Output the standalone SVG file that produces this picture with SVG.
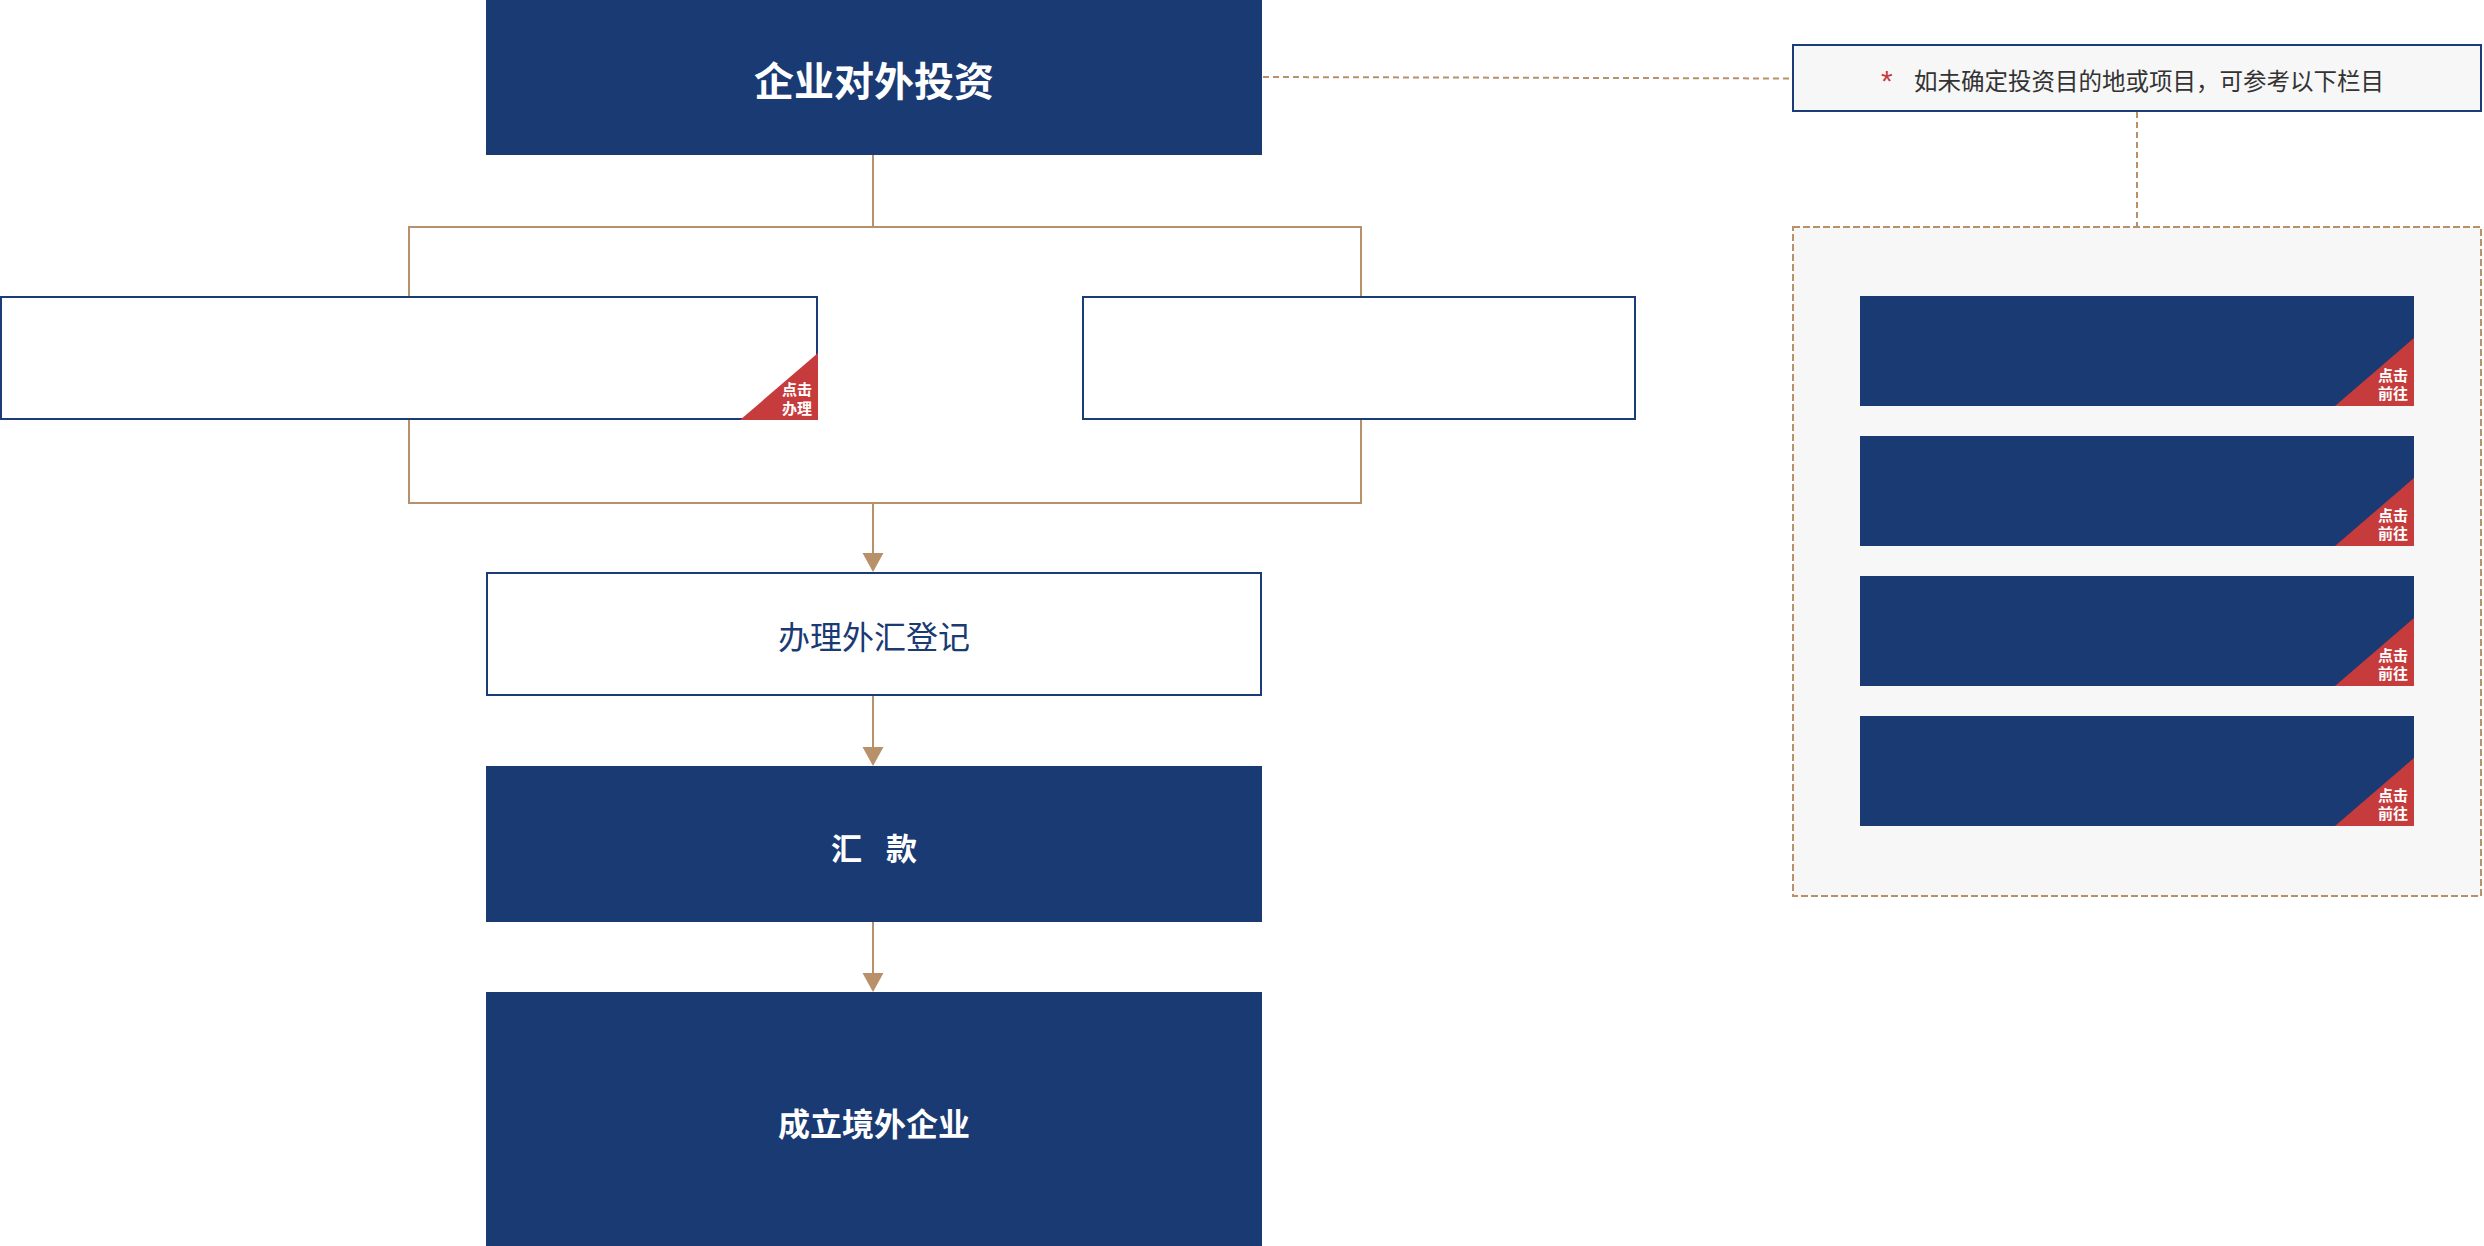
<svg xmlns="http://www.w3.org/2000/svg" width="2484" height="1246" viewBox="0 0 2484 1246">
  <style>
    .solid { fill: #1a3a73; }
    .outline { fill: #ffffff; stroke: #1c3c79; stroke-width: 2; }
    .tag { fill: #c63c3c; }
    .tagtxt { font-family: "Noto Sans CJK SC", "Noto Sans", sans-serif; font-size: 15px; font-weight: 700; fill: #ffffff; text-anchor: end; dominant-baseline: central; }
    .title { font-family: "Noto Sans CJK SC", "Noto Sans", sans-serif; font-weight: 700; fill: #ffffff; text-anchor: middle; dominant-baseline: central; }
    .label { font-family: "Noto Sans CJK SC", "Noto Sans", sans-serif; font-weight: 400; fill: #1a3a73; text-anchor: middle; dominant-baseline: central; }
    .note { font-family: "Noto Sans CJK SC", "Noto Sans", sans-serif; font-size: 23.5px; fill: #333333; dominant-baseline: central; }
    .star { font-family: "Liberation Sans", Arial, sans-serif; font-size: 30px; fill: #c63c3c; }
    .conn { fill: none; stroke: #b8916a; stroke-width: 2; }
    .dot { fill: none; stroke: #b8916a; stroke-width: 2; stroke-dasharray: 6 4; }
    .panelbox { fill: #f7f7f7; stroke: #b8916a; stroke-width: 2; stroke-dasharray: 7 3; }
    .head { fill: #b8916a; }
  </style>

  <rect width="2484" height="1246" fill="#ffffff"/>

  <!-- reference panel background -->
  <g id="panel">
    <rect class="panelbox" x="1793" y="227" width="688" height="669"/>
  </g>

  <!-- connectors -->
  <g id="connectors">
    <path class="conn" d="M873,155 V227 M409,296 V227 H1361 V296"/>
    <path class="conn" d="M409,420 V503 H1361 V420"/>
    <line class="conn" x1="873" y1="503" x2="873" y2="554"/>
    <path class="head" d="M862.5,553 L883.5,553 L873,572 Z"/>
    <line class="conn" x1="873" y1="696" x2="873" y2="748"/>
    <path class="head" d="M862.5,747 L883.5,747 L873,766 Z"/>
    <line class="conn" x1="873" y1="922" x2="873" y2="974"/>
    <path class="head" d="M862.5,973 L883.5,973 L873,992 Z"/>
    <line class="dot" x1="1263" y1="77" x2="1792" y2="78.5"/>
    <line class="dot" x1="2137" y1="112" x2="2137" y2="226"/>
  </g>

  <g id="node-start">
    <rect class="solid" x="486" y="0" width="776" height="155"/>
    <text class="title" x="874" y="78.5" font-size="40">企业对外投资</text>
  </g>

  <g id="node-left">
    <rect class="outline" x="1" y="297" width="816" height="122"/>
    <polygon class="tag" points="740,420 818,353 818,420"/>
    <text class="tagtxt" x="812" y="388">点击</text>
    <text class="tagtxt" x="812" y="407">办理</text>
  </g>

  <g id="node-right">
    <rect class="outline" x="1083" y="297" width="552" height="122"/>
  </g>

  <g id="node-register">
    <rect class="outline" x="487" y="573" width="774" height="122"/>
    <text class="label" x="874" y="635" font-size="32">办理外汇登记</text>
  </g>

  <g id="node-remit">
    <rect class="solid" x="486" y="766" width="776" height="156"/>
    <text class="title" x="874" y="846" font-size="31" xml:space="preserve" word-spacing="17">汇 款</text>
  </g>

  <g id="node-establish">
    <rect class="solid" x="486" y="992" width="776" height="254"/>
    <text class="title" x="874" y="1121.5" font-size="32">成立境外企业</text>
  </g>

  <g id="node-note">
    <rect x="1793" y="45" width="688" height="66" fill="#f7f7f7" stroke="#1c3c79" stroke-width="2"/>
    <text class="star" x="1881" y="90.5">*</text>
    <text class="note" x="1914" y="80">如未确定投资目的地或项目，可参考以下栏目</text>
  </g>

  <g id="node-link-1">
    <rect class="solid" x="1860" y="296" width="554" height="110"/>
    <polygon class="tag" points="2335,406 2414,338 2414,406"/>
    <text class="tagtxt" x="2408" y="374">点击</text>
    <text class="tagtxt" x="2408" y="392.5">前往</text>
  </g>
  <g id="node-link-2">
    <rect class="solid" x="1860" y="436" width="554" height="110"/>
    <polygon class="tag" points="2335,546 2414,478 2414,546"/>
    <text class="tagtxt" x="2408" y="514">点击</text>
    <text class="tagtxt" x="2408" y="532.5">前往</text>
  </g>
  <g id="node-link-3">
    <rect class="solid" x="1860" y="576" width="554" height="110"/>
    <polygon class="tag" points="2335,686 2414,618 2414,686"/>
    <text class="tagtxt" x="2408" y="654">点击</text>
    <text class="tagtxt" x="2408" y="672.5">前往</text>
  </g>
  <g id="node-link-4">
    <rect class="solid" x="1860" y="716" width="554" height="110"/>
    <polygon class="tag" points="2335,826 2414,758 2414,826"/>
    <text class="tagtxt" x="2408" y="794">点击</text>
    <text class="tagtxt" x="2408" y="812.5">前往</text>
  </g>
</svg>
